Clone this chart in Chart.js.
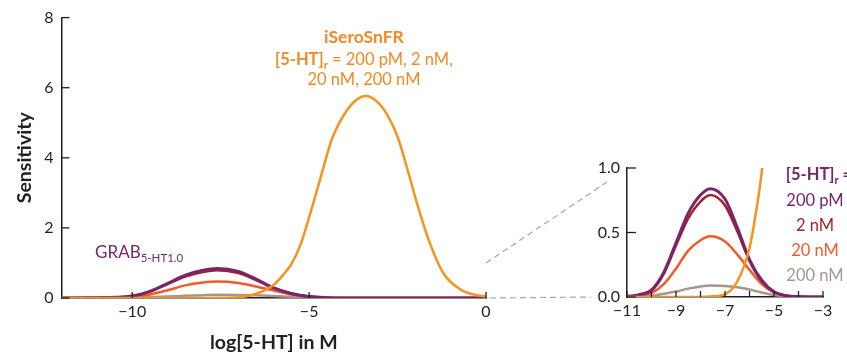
<!DOCTYPE html>
<html>
<head>
<meta charset="utf-8">
<script src="https://cdn.jsdelivr.net/npm/chart.js@4.4.0/dist/chart.umd.min.js"></script>
<style>
  html, body { margin: 0; padding: 0; background: #fff; }
  #wrap { position: relative; width: 847px; height: 354px; overflow: hidden; }
  #mainChart { position: absolute; left: 0; top: 0; }
  #insetChart { position: absolute; left: 560px; top: 0; }
</style>
</head>
<body>
<div id="wrap">
  <canvas id="mainChart" width="847" height="354"></canvas>
  <canvas id="insetChart" width="287" height="354"></canvas>
</div>
<script>
// iSeroSnFR sensitivity curve (log[5-HT] in M vs sensitivity)
const iseroX = [-12, -8, -7.5, -7, -6.5, -6, -5.75, -5.5, -5.25, -5, -4.7, -4.35, -4, -3.7, -3.4, -3.1, -2.8, -2.5, -2.2, -1.95, -1.6, -1.2, -0.7, -0.35, 0];
const iseroY = [0, 0, 0.005, 0.02, 0.12, 0.38, 0.64, 0.97, 1.5, 2.3, 3.35, 4.55, 5.25, 5.62, 5.76, 5.62, 5.24, 4.6, 3.6, 2.7, 1.6, 0.7, 0.23, 0.1, 0.04];

// GRAB5-HT1.0 curves for each [5-HT]r
const grabX     = [-12, -11, -10.5, -10, -9.5, -9, -8.5, -8, -7.6, -7, -6.5, -6, -5.5, -5, -4.5, -4, -3, 0];
const grab200pM = [0, 0.005, 0.018, 0.055, 0.19, 0.42, 0.65, 0.79, 0.84, 0.76, 0.54, 0.29, 0.13, 0.04, 0.01, 0.002, 0, 0];
const grab2nM   = [0, 0.004, 0.016, 0.05, 0.18, 0.40, 0.61, 0.74, 0.79, 0.71, 0.51, 0.28, 0.12, 0.04, 0.01, 0.002, 0, 0];
const grab20nM  = [0, 0.003, 0.01, 0.03, 0.10, 0.22, 0.36, 0.44, 0.47, 0.43, 0.33, 0.21, 0.10, 0.035, 0.01, 0.002, 0, 0];
const grab200nM = [0, 0.001, 0.004, 0.01, 0.025, 0.042, 0.065, 0.082, 0.09, 0.086, 0.075, 0.058, 0.035, 0.016, 0.006, 0.002, 0, 0];

// tick values
const mainXTicks  = [-10, -5, 0];
const insetXTicks = [-11, -10, -9, -8, -7, -6, -5, -4, -3];
const concLabels  = ['200 pM', '2 nM', '20 nM', '200 nM'];

const FONT = 'Lato, "Open Sans", sans-serif';
const INK = '#231f20';
const C_ORANGE = '#f7941d';
const C_TEXT_OR = '#f08a24';
const C_PURPLE = '#77266b';
const C_DARKRED = '#a41f2c';
const C_RED = '#f15a29';
const C_GRAY = '#a8968b';
const grabColors = [C_PURPLE, C_DARKRED, C_RED, C_GRAY];

const pts = (xs, ys) => xs.map((x, i) => ({ x: x, y: ys[i] }));
const minus = v => (v < 0 ? '\u2212' + Math.abs(v) : String(v));

function makeDatasets(width) {
  return [
    { label: 'iSeroSnFR', data: pts(iseroX, iseroY), borderColor: C_ORANGE, borderWidth: width },
    { label: '200 pM', data: pts(grabX, grab200pM), borderColor: C_PURPLE, borderWidth: width + 0.5 },
    { label: '2 nM', data: pts(grabX, grab2nM), borderColor: C_DARKRED, borderWidth: width },
    { label: '20 nM', data: pts(grabX, grab20nM), borderColor: C_RED, borderWidth: width },
    { label: '200 nM', data: pts(grabX, grab200nM), borderColor: C_GRAY, borderWidth: width }
  ];
}

// draw text made of several runs (for subscripts)
function drawRuns(ctx, runs, x, y, align) {
  let total = 0;
  runs.forEach(r => { ctx.font = r[1]; total += ctx.measureText(r[0]).width; });
  let cx = align === 'center' ? x - total / 2 : x;
  ctx.textAlign = 'left';
  ctx.textBaseline = 'alphabetic';
  runs.forEach(r => {
    ctx.font = r[1];
    ctx.fillText(r[0], cx, y + (r[2] || 0));
    cx += ctx.measureText(r[0]).width;
  });
}

// tick marks pointing into the plot
const innerTicks = {
  id: 'innerTicks',
  afterDraw(chart, args, opts) {
    const { ctx, chartArea, scales } = chart;
    ctx.save();
    ctx.strokeStyle = INK;
    ctx.lineWidth = 1.3;
    scales.x.ticks.forEach(t => {
      const px = scales.x.getPixelForValue(t.value);
      ctx.beginPath();
      ctx.moveTo(px, chartArea.bottom);
      ctx.lineTo(px, chartArea.bottom - opts.xLen);
      ctx.stroke();
    });
    scales.y.ticks.forEach(t => {
      const py = scales.y.getPixelForValue(t.value);
      ctx.beginPath();
      ctx.moveTo(chartArea.left, py);
      ctx.lineTo(chartArea.left + opts.yLen, py);
      ctx.stroke();
    });
    ctx.restore();
  }
};

const tickFont = { family: FONT, size: 16 };
const titleFont = { family: FONT, size: 19.5, weight: 'bold' };

// ---- inset chart ----
const insetLegend = {
  id: 'insetLegend',
  afterDraw(chart) {
    const { ctx, chartArea } = chart;
    const cx = chartArea.right - 8;
    ctx.save();
    ctx.fillStyle = C_PURPLE;
    drawRuns(ctx, [
      ['[5-HT]', 'bold 16.5px ' + FONT],
      ['r', 'bold 11px ' + FONT, 4],
      [' =', 'bold 16.5px ' + FONT]
    ], cx + 4, chartArea.top + 12, 'center');
    concLabels.forEach((lbl, i) => {
      ctx.fillStyle = grabColors[i];
      ctx.font = '16.5px ' + FONT;
      ctx.textAlign = 'center';
      ctx.fillText(lbl, cx, chartArea.top + 38 + i * 25);
    });
    ctx.restore();
  }
};

const insetChart = new Chart(document.getElementById('insetChart'), {
  type: 'line',
  data: { datasets: makeDatasets(2.5) },
  options: {
    responsive: false,
    animation: false,
    events: [],
    elements: { point: { radius: 0 }, line: { cubicInterpolationMode: 'monotone', fill: false } },
    layout: { padding: { left: 0, right: 24, top: 168, bottom: 0 } },
    plugins: { legend: { display: false }, tooltip: { enabled: false }, innerTicks: { xLen: 6, yLen: 9 } },
    scales: {
      x: {
        type: 'linear', min: -11, max: -3,
        afterBuildTicks: s => { s.ticks = insetXTicks.map(v => ({ value: v })); },
        ticks: { callback: v => (v % 2 !== 0 ? minus(v) : ''), font: tickFont, color: INK, padding: 4, maxRotation: 0, autoSkip: false },
        grid: { display: false, drawTicks: false },
        border: { display: true, color: INK, width: 1.5 },
        afterFit: s => { s.height = 57; }
      },
      y: {
        min: 0, max: 1,
        ticks: { stepSize: 0.5, callback: v => v.toFixed(1), font: tickFont, color: INK, padding: 7 },
        grid: { display: false, drawTicks: false },
        border: { display: true, color: INK, width: 1.5 },
        afterFit: s => { s.width = 67; }
      }
    }
  },
  plugins: [innerTicks, insetLegend]
});

// ---- main chart ----
const mainNotes = {
  id: 'mainNotes',
  afterDraw(chart) {
    const { ctx, scales } = chart;
    const xs = scales.x, ys = scales.y;
    ctx.save();

    // dashed zoom guides to the inset
    const offX = 560;
    const ia = insetChart.chartArea;
    const x0 = xs.getPixelForValue(0);
    ctx.strokeStyle = '#a7a7a7';
    ctx.lineWidth = 1.2;
    ctx.setLineDash([6, 4]);
    ctx.beginPath();
    ctx.moveTo(x0 + 4, ys.getPixelForValue(0));
    ctx.lineTo(offX + ia.left - 36, insetChart.scales.y.getPixelForValue(0));
    ctx.moveTo(x0, ys.getPixelForValue(1));
    ctx.lineTo(offX + ia.left - 20, insetChart.scales.y.getPixelForValue(1) + 14);
    ctx.stroke();
    ctx.setLineDash([]);

    // iSeroSnFR annotation
    const cx = xs.getPixelForValue(-3.45);
    ctx.fillStyle = C_TEXT_OR;
    drawRuns(ctx, [['iSeroSnFR', 'bold 17.5px ' + FONT]], cx, 43, 'center');
    drawRuns(ctx, [
      ['[5-HT]', 'bold 16.5px ' + FONT],
      ['r', 'bold 11px ' + FONT, 4],
      [' = 200 pM, 2 nM,', '16.5px ' + FONT]
    ], cx, 64.5, 'center');
    drawRuns(ctx, [['20 nM, 200 nM', '16.5px ' + FONT]], cx, 85, 'center');

    // GRAB annotation
    ctx.fillStyle = C_PURPLE;
    drawRuns(ctx, [
      ['GRAB', '17px ' + FONT],
      ['5-HT1.0', '11.5px ' + FONT, 4]
    ], xs.getPixelForValue(-11.05), ys.getPixelForValue(1.13), 'left');
    ctx.restore();
  }
};

new Chart(document.getElementById('mainChart'), {
  type: 'line',
  data: { datasets: makeDatasets(2.5) },
  options: {
    responsive: false,
    animation: false,
    events: [],
    elements: { point: { radius: 0 }, line: { cubicInterpolationMode: 'monotone', fill: false } },
    layout: { padding: { left: 0, right: 361, top: 16, bottom: 0 } },
    plugins: { legend: { display: false }, tooltip: { enabled: false }, innerTicks: { xLen: 6, yLen: 8 } },
    scales: {
      x: {
        type: 'linear', min: -12, max: 0,
        afterBuildTicks: s => { s.ticks = mainXTicks.map(v => ({ value: v })); },
        ticks: { callback: minus, font: tickFont, color: INK, padding: 4, maxRotation: 0 },
        grid: { display: false, drawTicks: false },
        border: { display: true, color: INK, width: 1.5 },
        title: { display: true, text: 'log[5-HT] in M', font: titleFont, color: INK, padding: { top: 0, bottom: 0 } },
        afterFit: s => { s.height = 56; }
      },
      y: {
        min: 0, max: 8,
        ticks: { stepSize: 2, font: tickFont, color: INK, padding: 8 },
        grid: { display: false, drawTicks: false },
        border: { display: true, color: INK, width: 1.5 },
        title: { display: true, text: 'Sensitivity', font: titleFont, color: INK, padding: { top: 13, bottom: 0 } },
        afterFit: s => { s.width = 61.5; }
      }
    }
  },
  plugins: [innerTicks, mainNotes]
});
</script>
</body>
</html>
